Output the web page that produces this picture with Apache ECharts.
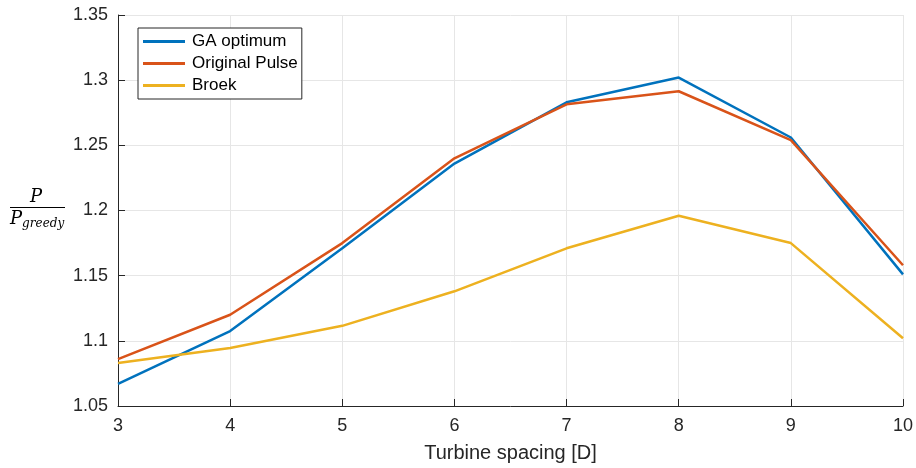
<!DOCTYPE html>
<html><head><meta charset="utf-8">
<script src="https://cdn.jsdelivr.net/npm/echarts@6/dist/echarts.min.js"></script>
<style>html,body{margin:0;padding:0;background:#fff}#c{width:916px;height:468px}</style>
</head><body><div id="c"></div>
<script>
const spacing = [3, 4, 5, 6, 7, 8, 9, 10];
const gaOptimum = [1.067, 1.1075, 1.171, 1.236, 1.283, 1.302, 1.256, 1.151];
const originalPulse = [1.086, 1.120, 1.175, 1.240, 1.2815, 1.2915, 1.254, 1.158];
const broek = [1.083, 1.0945, 1.1115, 1.138, 1.171, 1.196, 1.175, 1.102];
const seriesNames = ['GA optimum', 'Original Pulse', 'Broek'];
const colors = ['#0072BD', '#D95319', '#EDB120'];

const chart = echarts.init(document.getElementById('c'));
const mk = (name, vals, color) => ({
  name, type: 'line', data: spacing.map((x, i) => [x, vals[i]]),
  showSymbol: false, symbol: 'none', lineStyle: {color, width: 2.5}, itemStyle: {color},
  animation: false
});
const font = '"Liberation Sans", Arial, sans-serif';
chart.setOption({
  animation: false,
  grid: {left: 118, right: 13, top: 15, bottom: 62, outerBoundsMode: 'none', containLabel: false},
  legend: {
    left: 138, top: 28, orient: 'vertical', itemGap: 5, itemWidth: 42, itemHeight: 3,
    icon: 'rect', borderColor: '#262626', borderWidth: 1, padding: [5, 4, 5, 5],
    backgroundColor: '#fff',
    textStyle: {fontFamily: font, fontSize: 17, color: '#000', padding: [0, 0, 0, 2]},
    data: seriesNames
  },
  xAxis: {
    type: 'value', min: 3, max: 10, interval: 1,
    name: 'Turbine spacing [D]', nameLocation: 'middle', nameGap: 37,
    nameTextStyle: {fontFamily: font, fontSize: 20, color: '#262626'},
    axisLine: {lineStyle: {color: '#262626', width: 1}},
    axisTick: {inside: true, length: 7, lineStyle: {color: '#262626'}},
    axisLabel: {fontFamily: font, fontSize: 18, color: '#262626', margin: 11},
    splitLine: {show: true, lineStyle: {color: '#e6e6e6', width: 1}}
  },
  yAxis: {
    type: 'value', min: 1.05, max: 1.35, interval: 0.05,
    axisLine: {show: true, lineStyle: {color: '#262626', width: 1}},
    axisTick: {show: true, inside: true, length: 7, lineStyle: {color: '#262626'}},
    axisLabel: {fontFamily: font, fontSize: 18, color: '#262626', margin: 10,
      formatter: v => String(parseFloat(v.toFixed(2)))},
    splitLine: {show: true, lineStyle: {color: '#e6e6e6', width: 1}}
  },
  graphic: [
    {type: 'text', left: 30, top: 188, style: {text: 'P', font: 'italic 18px "DejaVu Serif", "Liberation Serif", serif', fill: '#000'}},
    {type: 'line', shape: {x1: 10, y1: 207.5, x2: 65, y2: 207.5}, style: {stroke: '#000', lineWidth: 1.2}},
    {type: 'text', left: 10, top: 210, style: {
      text: '{a|P}{b|greedy}',
      rich: {
        a: {font: 'italic 18px "DejaVu Serif", "Liberation Serif", serif', fill: '#000'},
        b: {font: 'italic 12px "DejaVu Serif", "Liberation Serif", serif', fill: '#000', padding: [9, 0, 0, 0]}
      }
    }}
  ],
  series: [
    mk(seriesNames[0], gaOptimum, colors[0]),
    mk(seriesNames[1], originalPulse, colors[1]),
    mk(seriesNames[2], broek, colors[2])
  ]
});
</script></body></html>
